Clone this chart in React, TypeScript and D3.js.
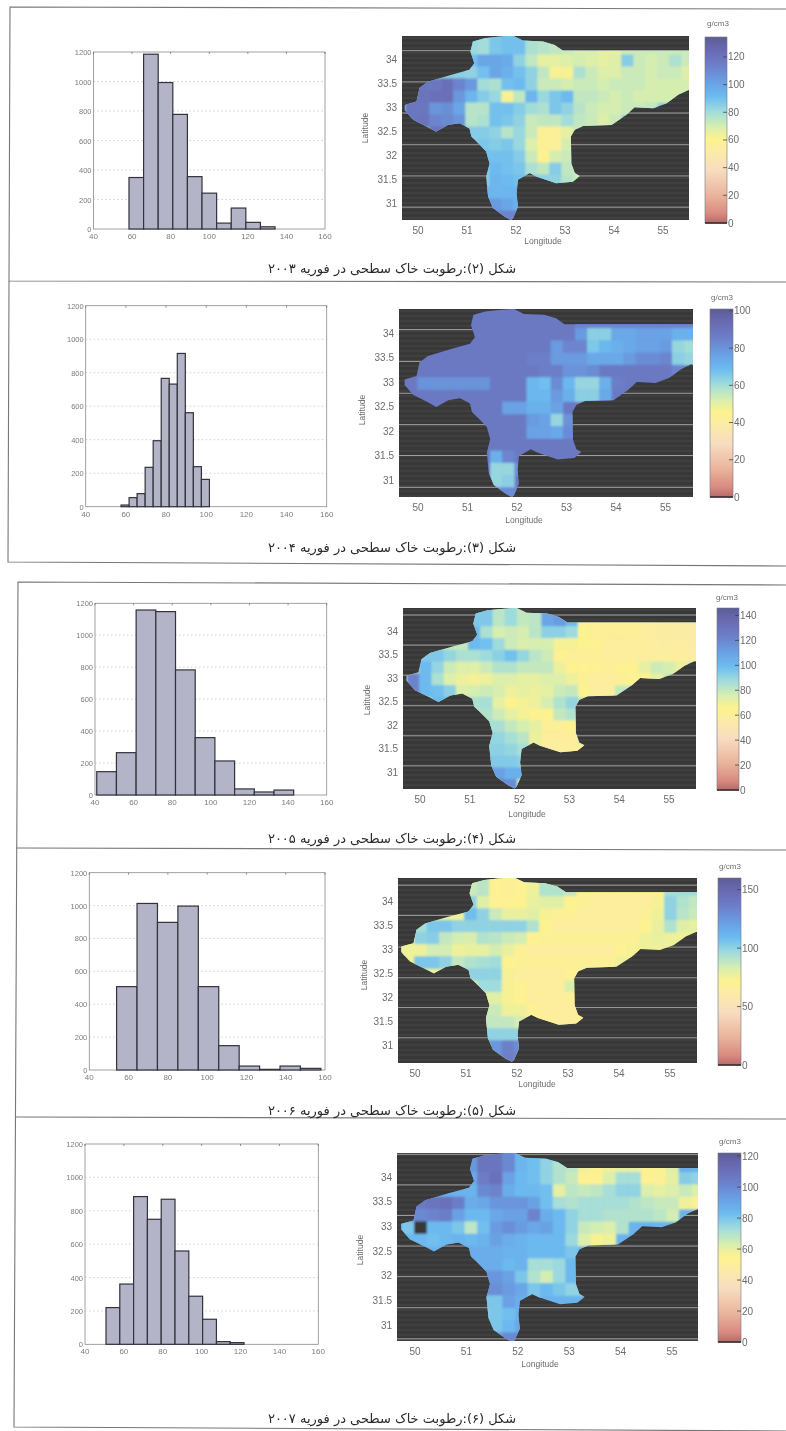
import React from "react";
import * as d3 from "d3";

const W = 786;
const H = 1431;

// ---------- histogram data ----------
const xTicksHist = [40, 60, 80, 100, 120, 140, 160];
const yTicksHist = [0, 200, 400, 600, 800, 1000, 1200];
const histCounts1 = [349, 1185, 993, 777, 355, 243, 40, 142, 45, 15];
const histCounts2 = [10, 54, 78, 235, 394, 766, 732, 915, 561, 239, 163];
const histCounts3 = [146, 265, 1158, 1148, 783, 359, 213, 38, 19, 31];
const histCounts4 = [507, 1013, 898, 997, 507, 148, 24, 4, 24, 10];
const histCounts5 = [220, 361, 885, 749, 869, 559, 288, 150, 16, 10];
const histStarts = [58.4, 57.6, 40.9, 53.9, 50.8];
const histWidths = [7.57, 4.0, 10.2, 10.4, 7.1];

// ---------- map data: each row is [first column, values...] in g/cm3 ----------
const mapLonStart = 49.74;
const mapLonStep = 0.245;
const mapLatStart = 34.35;
const mapLatStep = 0.25;

const map1Rows = [
  [5, 82, 80, 88, 90, 90, 78, 76, 74, 72, 70, 70, 66, 66, 72, 72, 72, 72, 72, 72],
  [5, 90, 100, 100, 98, 84, 74, 66, 66, 68, 70, 68, 66, 68, 86, 72, 70, 72, 78, 72],
  [5, 84, 90, 100, 96, 90, 84, 74, 62, 62, 78, 72, 68, 68, 72, 72, 70, 72, 72, 68],
  [1, 118, 118, 122, 112, 105, 80, 78, 90, 92, 84, 72, 72, 70, 72, 72, 70, 72, 72, 72, 70, 70, 70, 70],
  [0, 118, 120, 122, 122, 105, 94, 86, 82, 62, 74, 94, 82, 88, 92, 74, 74, 72, 70, 72, 70, 70, 70, 70, 70],
  [0, 118, 118, 106, 108, 100, 76, 76, 90, 90, 86, 80, 78, 88, 84, 76, 72, 70, 70, 72, 72, 74],
  [0, 118, 120, 112, 110, 106, 76, 78, 90, 88, 84, 72, 74, 74, 80, 74, 72, 68, 72],
  [2, 120, 118, 110, 86, 86, 84, 76, 82, 72, 58, 56, 66, 72, 70],
  [6, 88, 86, 88, 82, 68, 58, 56, 70],
  [6, 90, 90, 90, 86, 72, 60, 70, 72],
  [7, 92, 90, 88, 78, 74, 86, 74, 70],
  [7, 94, 92, 90, 84, 84, 84, 76, 72],
  [6, 94, 94, 94, 94],
  [6, 104, 104, 100, 96],
  [7, 112, 112, 112],
];

const map2Rows = [
  [14, 84, 84, 84, 84, 84, 84, 84, 84, 84, 84],
  [14, 78, 64, 64, 74, 74, 76, 76, 76, 72, 72],
  [12, 78, 84, 84, 66, 70, 72, 74, 76, 76, 78, 62, 60],
  [10, 86, 86, 78, 78, 78, 74, 74, 74, 78, 82, 82, 84, 64, 62],
  [11, 86, 86, 80, 80, 82, 88, 88, 88, 88, 88, 88, 84],
  [1, 80, 80, 80, 80, 80, 80, 88, 88, 88, 70, 68, 82, 70, 62, 62, 72, 86],
  [10, 70, 70, 78, 72, 64, 64, 74],
  [8, 76, 76, 72, 72, 76],
  [10, 78, 76, 62, 80],
  [10, 76, 76, 74, 82],
  [7, 88],
  [7, 72, 84],
  [7, 62, 62, 80],
  [7, 62, 64],
  [7, 82, 82, 82],
];

const map3Rows = [
  [5, 95, 95, 82, 88, 80, 82, 108, 112, 100, 62, 62, 62, 62, 62, 60, 58, 57, 57, 57],
  [5, 100, 85, 76, 78, 76, 82, 92, 92, 88, 66, 62, 62, 62, 62, 60, 58, 57, 57, 57],
  [5, 100, 98, 88, 78, 75, 76, 76, 68, 68, 66, 64, 60, 60, 60, 60, 58, 58, 58, 56],
  [1, 95, 95, 90, 85, 85, 88, 92, 98, 90, 82, 78, 64, 62, 62, 62, 60, 60, 60, 60, 60, 60, 60, 58],
  [1, 100, 90, 78, 74, 74, 78, 84, 84, 80, 80, 80, 70, 64, 64, 64, 62, 64, 64, 72, 78, 76, 70],
  [0, 122, 100, 85, 74, 70, 68, 70, 74, 74, 72, 72, 74, 74, 70, 62, 60, 60, 62, 64, 66, 72],
  [0, 122, 100, 98, 92, 74, 76, 78, 76, 70, 72, 70, 72, 78, 80, 66, 60, 60],
  [2, 100, 100, 85, 85, 86, 72, 66, 68, 70, 76, 84, 90],
  [6, 84, 78, 72, 68, 64, 66, 80, 84],
  [6, 86, 86, 80, 76, 72, 62, 62, 64],
  [6, 90, 90, 86, 82, 70, 60, 60, 60],
  [6, 92, 92, 90, 86, 70, 60, 60, 60, 60],
  [6, 96, 94, 94, 92],
  [6, 110, 110, 104, 104],
  [6, 120, 120, 118, 80],
];

const map4Rows = [
  [5, 86, 90, 70, 68, 70, 76, 92, 92, 88, 68, 68, 68, 68, 68, 68, 68, 95, 96, 96],
  [5, 100, 80, 70, 70, 72, 78, 80, 80, 72, 68, 66, 66, 66, 66, 66, 74, 100, 92, 88],
  [5, 108, 100, 86, 78, 78, 80, 74, 68, 68, 66, 66, 66, 66, 66, 68, 76, 100, 90, 86],
  [1, 95, 105, 105, 100, 100, 100, 100, 100, 100, 92, 72, 66, 66, 66, 66, 66, 66, 66, 72, 78, 92, 80, 78],
  [0, 78, 100, 102, 88, 84, 82, 92, 90, 86, 84, 70, 68, 68, 68, 68, 68, 68, 68, 68, 76, 78],
  [0, 76, 76, 84, 84, 76, 78, 78, 84, 78, 68, 66, 66, 66, 66, 66, 66, 66, 70, 74],
  [1, 105, 105, 100, 88, 92, 94, 96, 72, 68, 68, 68, 68, 68, 68, 68, 68],
  [5, 100, 100, 100, 74, 66, 66, 66, 66, 70],
  [6, 96, 96, 74, 70, 66, 66, 66, 82],
  [6, 80, 80, 74, 70, 66, 66, 66, 68],
  [6, 86, 86, 76, 76, 70, 66, 66, 66],
  [6, 88, 88, 88, 84, 70, 66, 66, 66, 66],
  [6, 100, 100, 100, 100],
  [6, 120, 125, 135, 130],
  [6, 128, 128, 135, 135],
];

const map5Rows = [
  [5, 95, 108, 108, 100, 85, 82, 76, 70, 68, 58, 54, 58, 60, 60, 54, 54, 62, 88, 86],
  [5, 90, 105, 110, 92, 84, 82, 76, 70, 66, 54, 54, 62, 72, 72, 54, 52, 60, 78, 76],
  [5, 86, 100, 102, 88, 84, 84, 82, 60, 68, 66, 68, 72, 76, 76, 62, 60, 62, 66, 62],
  [1, 106, 108, 110, 104, 88, 90, 96, 96, 96, 92, 82, 72, 70, 72, 72, 72, 72, 70, 68, 66, 66, 58, 52],
  [0, 100, 100, 102, 104, 92, 84, 84, 90, 92, 92, 102, 88, 84, 76, 72, 72, 70, 70, 70, 70, 68, 64],
  [0, 80, -1, 84, 84, 80, 68, 82, 94, 98, 94, 90, 92, 84, 76, 66, 64, 62, 70],
  [0, 84, 84, 82, 84, 86, 84, 86, 92, 88, 86, 84, 84, 84, 74, 62, 56, 58],
  [5, 88, 88, 88, 86, 86, 84, 84, 84, 80],
  [6, 88, 88, 84, 86, 72, 72, 74, 84],
  [6, 96, 96, 92, 80, 70, 64, 74, 84],
  [6, 98, 98, 94, 90, 80, 84, 80, 76, 76],
  [6, 80, 80, 92, 88, 80],
  [6, 78, 80, 82, 86],
  [6, 80, 80, 84, 90],
  [6, 94, 94, 100, 100],
];

const mapBase = [85, 88, 80, 76, 86];
const mapMax = [134.4, 101, 146, 160, 122];

// region outline as longitude, latitude pairs
const regionLon = [51.12, 51.36, 51.63, 51.94, 52.14, 52.55, 52.79, 52.96, 55.9, 55.9, 55.52, 55.31, 55.07, 54.8, 54.42, 54.25, 53.95, 53.37, 53.2, 53.12, 53.13, 53.2, 53.3, 53.16, 52.82, 52.41, 52.28, 52.04, 52.01, 52.04, 51.94, 51.9, 51.77, 51.53, 51.43, 51.39, 51.46, 51.39, 51.26, 51.09, 51.05, 50.85, 50.61, 50.37, 50.17, 49.9, 49.73, 49.73, 49.97, 50.03, 50.2, 50.65, 51.05, 51.15, 51.07];
const regionLat = [34.37, 34.44, 34.47, 34.49, 34.39, 34.37, 34.3, 34.18, 34.18, 33.2, 33.36, 33.26, 33.08, 32.98, 33.0, 32.84, 32.63, 32.61, 32.53, 32.39, 31.83, 31.63, 31.57, 31.45, 31.42, 31.56, 31.63, 31.49, 31.21, 30.93, 30.69, 30.65, 30.72, 30.9, 31.14, 31.56, 31.83, 32.08, 32.22, 32.39, 32.56, 32.67, 32.63, 32.49, 32.6, 32.74, 32.94, 33.05, 33.12, 33.4, 33.53, 33.67, 33.78, 33.92, 34.16];

const lonTicks = [50, 51, 52, 53, 54, 55];
const latTicks = [34, 33.5, 33, 32.5, 32, 31.5, 31];
const scanLats = [
  [34.18, 33.53, 32.88, 32.22, 31.57, 30.92],
  [34.07, 33.42, 32.77, 32.13, 31.5, 30.85],
  [34.34, 33.7, 33.06, 32.41, 31.77, 31.13],
  [34.33, 33.7, 33.04, 32.4, 31.78, 31.15],
  [34.46, 33.84, 33.22, 32.6, 31.98, 31.35, 30.72],
];
const barTicks = [
  [0, 20, 40, 60, 80, 100, 120],
  [0, 20, 40, 60, 80, 100],
  [0, 20, 40, 60, 80, 100, 120, 140],
  [0, 50, 100, 150],
  [0, 20, 40, 60, 80, 100, 120],
];
const captions = [
  "شکل (۲):رطوبت خاک سطحی در فوریه ۲۰۰۳",
  "شکل (۳):رطوبت خاک سطحی در فوریه ۲۰۰۴",
  "شکل (۴):رطوبت خاک سطحی در فوریه ۲۰۰۵",
  "شکل (۵):رطوبت خاک سطحی در فوریه ۲۰۰۶",
  "شکل (۶):رطوبت خاک سطحی در فوریه ۲۰۰۷",
];
const colorOffsets = [0, 0.05, 0.15, 0.28, 0.38, 0.45, 0.52, 0.6, 0.68, 0.76, 0.85, 0.93, 1];
const colorStops = ["#b56a6a", "#d88a80", "#eab49c", "#f7dcc0", "#fbeba8", "#fdf28e", "#d6eeb0", "#a0dcdc", "#6cbcf0", "#6a9fe4", "#6c7ec8", "#6a6ab2", "#5c5c98"];

const histData = [histCounts1, histCounts2, histCounts3, histCounts4, histCounts5];
const mapData = [map1Rows, map2Rows, map3Rows, map4Rows, map5Rows];

// ---------- layout ----------
const layouts = [
  { hx: [93.5, 325], hy: [52, 229], mx: [402, 689], my: [36, 220], lon: [418, 49], lat: [59.3, 203.3], bar: [705, 727, 37, 223], latLabel: [365, 128], lonLabel: [543, 241], title: [718, 23], cap: 270 },
  { hx: [85.7, 326.7], hy: [305.7, 506.7], mx: [399, 693], my: [309, 497], lon: [418, 49.5], lat: [333, 480], bar: [710, 733, 309, 497], latLabel: [362, 410], lonLabel: [524, 520], title: [722, 297], cap: 549 },
  { hx: [95, 326.7], hy: [603.3, 795], mx: [403, 696], my: [608, 789], lon: [420, 49.8], lat: [631, 772], bar: [717, 739, 608, 790], latLabel: [367, 700], lonLabel: [527, 814], title: [727, 597], cap: 840 },
  { hx: [89.3, 325], hy: [872.7, 1070], mx: [398, 697], my: [878, 1063], lon: [415, 51], lat: [901, 1045], bar: [718, 741, 878, 1065], latLabel: [364, 975], lonLabel: [537, 1084], title: [730, 866], cap: 1112 },
  { hx: [85, 318.3], hy: [1144, 1344.3], mx: [397, 698], my: [1153, 1341], lon: [415, 51.4], lat: [1177, 1325], bar: [718, 741, 1153, 1342], latLabel: [360, 1250], lonLabel: [540, 1364], title: [730, 1141], cap: 1420 },
];

const colorFor = d3.scaleLinear<string>().domain(colorOffsets).range(colorStops).clamp(true);
const darkFill = "#383737";
const textFill = "#6c6c6c";
const histText = "#7c7c7c";
const sans = "'Liberation Sans', Arial, sans-serif";

function Hist({ i }: { i: number }) {
  const l = layouts[i];
  const x = d3.scaleLinear().domain([40, 160]).range(l.hx);
  const y = d3.scaleLinear().domain([0, 1200]).range([l.hy[1], l.hy[0]]);
  return (
    <g>
      <rect x={l.hx[0]} y={l.hy[0]} width={l.hx[1] - l.hx[0]} height={l.hy[1] - l.hy[0]} fill="#fff" stroke="#8a8a8a" strokeWidth={0.8} />
      {yTicksHist.slice(1, -1).map((t) => (
        <line key={t} x1={l.hx[0]} x2={l.hx[1]} y1={y(t)} y2={y(t)} stroke="#b4b4b4" strokeWidth={0.6} strokeDasharray="1.5 2.5" />
      ))}
      {histData[i].map((v, k) => {
        const a = histStarts[i] + k * histWidths[i];
        return <rect key={k} x={x(a)} y={y(v)} width={x(a + histWidths[i]) - x(a)} height={y(0) - y(v)} fill="#b4b4c8" stroke="#32323c" strokeWidth={1.2} />;
      })}
      {xTicksHist.map((t) => (
        <g key={t}>
          <line x1={x(t)} x2={x(t)} y1={l.hy[0]} y2={l.hy[0] + 2} stroke="#666" strokeWidth={0.7} />
          <text x={x(t)} y={l.hy[1] + 10} fontSize={8} fill={histText} textAnchor="middle" fontFamily={sans}>{t}</text>
        </g>
      ))}
      {yTicksHist.map((t) => (
        <text key={t} x={l.hx[0] - 2} y={y(t) + 3} fontSize={7.5} fill={histText} textAnchor="end" fontFamily={sans}>{t}</text>
      ))}
    </g>
  );
}

function MapPanel({ i }: { i: number }) {
  const l = layouts[i];
  const x = d3.scaleLinear().domain([50, 51]).range([l.lon[0], l.lon[0] + l.lon[1]]);
  const y = d3.scaleLinear().domain([34, 31]).range(l.lat);
  const outline = d3.line<number>().x((d) => x(regionLon[d])).y((d) => y(regionLat[d]))(d3.range(regionLon.length)) + "Z";
  const norm = (v: number) => v / mapMax[i];
  return (
    <g>
      <defs>
        <clipPath id={`plot${i}`}><rect x={l.mx[0]} y={l.my[0]} width={l.mx[1] - l.mx[0]} height={l.my[1] - l.my[0]} /></clipPath>
        <clipPath id={`region${i}`}><path d={outline} /></clipPath>
      </defs>
      <g clipPath={`url(#plot${i})`}>
        <rect x={l.mx[0]} y={l.my[0]} width={l.mx[1] - l.mx[0]} height={l.my[1] - l.my[0]} fill={darkFill} />
        {d3.range(l.my[0] + 2, l.my[1], 5).map((p) => (
          <line key={p} x1={l.mx[0]} x2={l.mx[1]} y1={p} y2={p} stroke="#4a4a4a" strokeWidth={1} />
        ))}
        {scanLats[i].map((t) => (
          <line key={t} x1={l.mx[0]} x2={l.mx[1]} y1={y(t)} y2={y(t)} stroke="#a09f9c" strokeWidth={1} />
        ))}
        <path d={outline} fill={colorFor(norm(mapBase[i]))} />
        <g clipPath={`url(#region${i})`}>
          <g filter="url(#soft)">
            {mapData[i].flatMap((row, r) =>
              row.slice(1).map((v, k) => {
                const c = row[0] + k;
                const lonA = mapLonStart + c * mapLonStep;
                const latA = mapLatStart - r * mapLatStep + (r === 0 ? 0.3 : 0);
                const latB = mapLatStart - (r + 1) * mapLatStep;
                return (
                  <rect key={`${r}-${c}`} x={x(lonA)} y={y(latA)} width={x(lonA + mapLonStep) - x(lonA) + 0.5} height={y(latB) - y(latA) + 0.5}
                    fill={v < 0 ? darkFill : colorFor(norm(v))} />
                );
              })
            )}
          </g>
        </g>
      </g>
      {lonTicks.map((t) => (
        <text key={t} x={x(t)} y={l.my[1] + 14} fontSize={10} fill={textFill} textAnchor="middle" fontFamily={sans}>{t}</text>
      ))}
      {latTicks.map((t) => (
        <text key={t} x={l.mx[0] - 5} y={y(t) + 3.5} fontSize={10} fill={textFill} textAnchor="end" fontFamily={sans}>{t}</text>
      ))}
      <text x={l.lonLabel[0]} y={l.lonLabel[1] + 3} fontSize={8.5} fill={textFill} textAnchor="middle" fontFamily={sans}>Longitude</text>
      <text transform={`translate(${l.latLabel[0] + 3},${l.latLabel[1]}) rotate(-90)`} fontSize={8.5} fill={textFill} textAnchor="middle" fontFamily={sans}>Latitude</text>
    </g>
  );
}

function ColorBar({ i }: { i: number }) {
  const l = layouts[i];
  const [x0, x1, y0, y1] = l.bar;
  const y = d3.scaleLinear().domain([0, mapMax[i]]).range([y1, y0]);
  return (
    <g>
      <defs>
        <linearGradient id={`cb${i}`} x1="0" x2="0" y1="1" y2="0">
          {colorOffsets.map((o, k) => <stop key={o} offset={o} stopColor={colorStops[k]} />)}
        </linearGradient>
      </defs>
      <rect x={x0} y={y0} width={x1 - x0} height={y1 - y0} fill={`url(#cb${i})`} stroke="#77777f" strokeWidth={0.6} />
      <line x1={x0} x2={x1} y1={y1} y2={y1} stroke="#3a2a2a" strokeWidth={1.6} />
      {barTicks[i].map((t) => (
        <g key={t}>
          <line x1={x1 - 4} x2={x1} y1={y(t)} y2={y(t)} stroke="#444" strokeWidth={0.8} />
          <text x={x1 + 1} y={y(t) + 3.5} fontSize={10} fill={textFill} fontFamily={sans}>{t}</text>
        </g>
      ))}
      <text x={l.title[0]} y={l.title[1] + 3} fontSize={8} fill={textFill} textAnchor="middle" fontFamily={sans}>g/cm3</text>
    </g>
  );
}

export default function App() {
  return (
    <svg width={W} height={H} viewBox={`0 0 ${W} ${H}`} style={{ position: "absolute", left: 0, top: 0, display: "block" }}>
      <defs>
        <filter id="scan" filterUnits="userSpaceOnUse" x={0} y={0} width={W} height={H}>
          <feGaussianBlur stdDeviation={0.55} />
        </filter>
        <filter id="soft" filterUnits="userSpaceOnUse" x={0} y={0} width={W} height={H}>
          <feGaussianBlur stdDeviation={1.3} />
        </filter>
      </defs>
      <rect x={0} y={0} width={W} height={H} fill="#fff" />
      <g filter="url(#scan)">
        <g fill="none" stroke="#777" strokeWidth={1.1}>
          <path d={d3.line()([[786, 9], [10, 7], [9, 281], [786, 282]]) as string} />
          <path d={d3.line()([[9, 281], [8, 562], [786, 566]]) as string} />
          <path d={d3.line()([[786, 585], [18, 582], [14, 1427], [786, 1431]]) as string} />
          <path d={d3.line()([[16, 848], [786, 850]]) as string} />
          <path d={d3.line()([[15, 1117], [786, 1119]]) as string} />
        </g>
        {layouts.map((l, i) => (
          <g key={i}>
            <Hist i={i} />
            <MapPanel i={i} />
            <ColorBar i={i} />
            <text x={392} y={l.cap + 3} fontSize={13} fill="#2a2a2a" textAnchor="middle" direction="rtl" fontFamily="'DejaVu Sans'">{captions[i]}</text>
          </g>
        ))}
      </g>
    </svg>
  );
}
